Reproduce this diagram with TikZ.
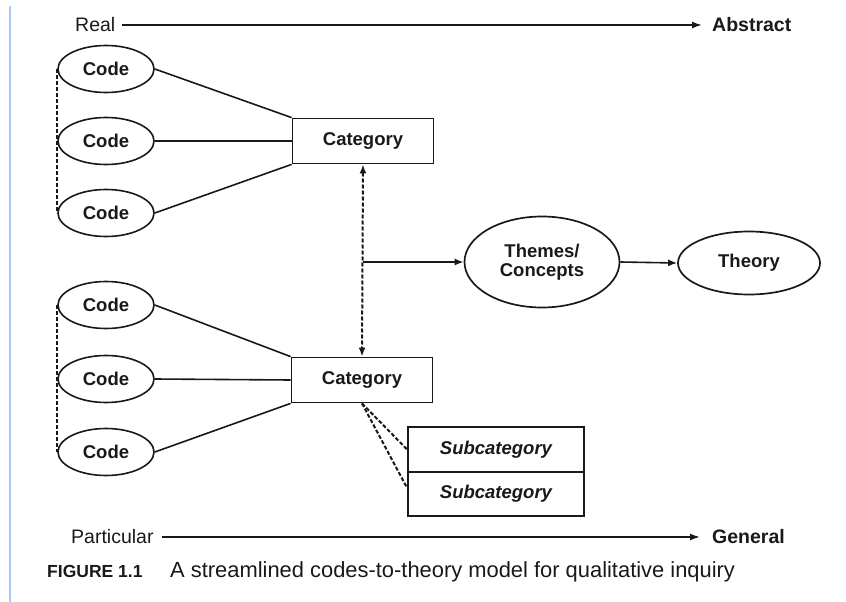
\documentclass[tikz,border=0pt]{standalone}
\usepackage{fontspec}
\setmainfont{Liberation Sans}
\usetikzlibrary{shapes.geometric,arrows.meta}

\definecolor{margin}{RGB}{170,200,240}
\definecolor{ink}{RGB}{25,25,25}

\begin{document}
\begin{tikzpicture}[x=1pt,y=-1pt, ink,
  labelfont/.style={font=\fontsize{18.5}{19.5}\selectfont\bfseries},
  code/.style={ellipse, draw, line width=1.6pt, minimum width=96pt,
    minimum height=47pt, inner sep=0pt, labelfont},
  catbox/.style={rectangle, draw, line width=1.8pt, minimum width=141pt,
    minimum height=45pt, inner sep=0pt, labelfont},
  subbox/.style={rectangle, draw, line width=1.8pt, minimum width=176pt,
    minimum height=45pt, inner sep=0pt,
    font=\fontsize{18.5}{19.5}\selectfont\bfseries\itshape},
  bigoval/.style={ellipse, draw, line width=1.7pt, inner sep=0pt,
    align=center, labelfont},
  axislbl/.style={inner sep=0pt, anchor=west, font=\fontsize{19.5}{20}\selectfont},
  link/.style={line width=1.6pt},
  dots/.style={line width=2pt, dash pattern=on 4pt off 2pt},
  tip/.style={-{Latex[length=9pt,width=7pt]}},
  axis/.style={line width=1.6pt, -{Latex[length=10pt,width=7pt]}},
]
\useasboundingbox (0,0) rectangle (846,602);

% page margin rule
\draw[margin, line width=2pt] (10,6) -- (10,602);

% Real -> Abstract axis
\node[axislbl] (real) at (75,25) {Real};
\node[axislbl, font=\fontsize{19.5}{20}\selectfont\bfseries] (abstract) at (712,25) {Abstract};
\draw[axis, shorten <=6pt, shorten >=10pt] (real.east) -- (abstract.west);

% first group of codes
\node[code] (c1) at (106,69) {Code};
\node[code] (c2) at (106,141) {Code};
\node[code] (c3) at (106,213) {Code};
\node[catbox] (cat1) at (363,141) {Category};
\draw[link] (c1.east) -- (cat1.north west);
\draw[link] (c2.east) -- (cat1.west);
\draw[link] (c3.east) -- (cat1.south west);
\draw[dots] (c1.west) -- (c3.west);

% second group of codes
\node[code] (c4) at (106,305) {Code};
\node[code] (c5) at (106,379) {Code};
\node[code] (c6) at (106,452) {Code};
\node[catbox] (cat2) at (362,380) {Category};
\draw[link] (c4.east) -- (cat2.north west);
\draw[link] (c5.east) -- (cat2.west);
\draw[link] (c6.east) -- (cat2.south west);
\draw[dots] (c4.west) -- (c6.west);

% link between categories
\draw[dots, {Latex[length=9pt,width=7pt]}-{Latex[length=9pt,width=7pt]}]
  (cat1.south) -- (cat2.north);

% themes and theory
\node[bigoval, minimum width=155pt, minimum height=91pt] (themes) at (542,262)
  {Themes/\\Concepts};
\node[bigoval, minimum width=142pt, minimum height=63pt] (theory) at (749,263)
  {Theory};
\coordinate (branch) at (363,262);
\draw[link, tip] (branch) -- (themes.west);
\draw[link, tip] (themes.east) -- (theory.west);

% subcategories
\node[subbox] (sub1) at (496,449.5) {Subcategory};
\node[subbox, minimum height=44pt] (sub2) at (496,494) {Subcategory};
\draw[dots] (cat2.south) -- (sub1.west);
\draw[dots] (cat2.south) -- ([yshift=6pt]sub2.west);

% Particular -> General axis
\node[axislbl] (particular) at (71,537) {Particular};
\node[axislbl, font=\fontsize{19.5}{20}\selectfont\bfseries] (general) at (712,537) {General};
\draw[axis, shorten <=8pt, shorten >=12pt] (particular.east) -- (general.west);

% caption
\node[inner sep=0pt, anchor=base west, font=\fontsize{17.5}{17.5}\selectfont\bfseries]
  (fignum) at (47,577) {FIGURE 1.1};
\node[inner sep=0pt, anchor=base west, font=\fontsize{21.9}{21.9}\selectfont]
  (caption) at (170,577) {A streamlined codes-to-theory model for qualitative inquiry};
\end{tikzpicture}
\end{document}
